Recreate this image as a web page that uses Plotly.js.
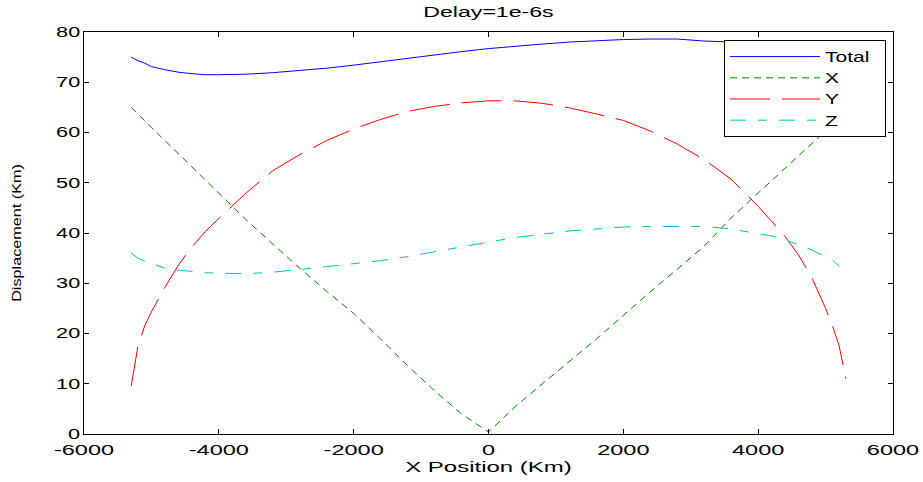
<!DOCTYPE html>
<html><head><meta charset="utf-8">
<script src="https://cdn.plot.ly/plotly-3.0.1.min.js"></script>
<style>html,body{margin:0;padding:0;background:#fff}</style>
</head><body>
<div id="chart" style="width:923px;height:482px"></div>
<script>
const xPositions = [-5300,-5200,-5100,-5000,-4800,-4600,-4400,-4200,-4000,-3600,-3200,-2800,-2400,-2000,-1600,-1200,-800,-400,0,400,800,1200,1600,2000,2400,2800,3200,3600,4000,4200,4400,4600,4800,5000,5100,5200,5300];
const totalDisp = [75.0,74.3,73.8,73.1,72.5,72.0,71.7,71.5,71.5,71.6,71.9,72.3,72.8,73.4,74.1,74.8,75.5,76.1,76.7,77.2,77.6,78.0,78.3,78.5,78.6,78.6,78.2,78.0,77.6,77.3,77.0,76.6,76.1,75.6,75.3,75.0,74.6];
const xDisp = [65.0,63.6,62.3,61.0,58.4,55.8,53.2,50.5,47.8,42.7,37.8,33.0,28.4,24.0,18.9,13.6,8.6,4.0,0.4,5.5,10.0,14.4,18.9,23.6,28.3,32.8,37.4,43.0,48.0,50.5,53.0,55.5,58.0,60.4,61.6,62.8,64.0];
const yDisp = [9.5,17.5,21.5,24.3,29.2,33.6,37.2,40.3,42.9,47.9,52.4,55.6,58.4,60.7,62.6,64.2,65.2,65.9,66.3,66.3,65.8,64.9,63.7,62.4,60.3,57.7,54.6,50.7,45.3,42.4,39.3,35.6,31.0,25.0,21.6,17.6,11.0];
const zDisp = [36.0,35.0,34.4,33.9,33.0,32.6,32.3,32.1,32.0,31.9,32.2,32.7,33.3,33.9,34.5,35.3,36.3,37.3,38.2,39.1,39.8,40.4,40.8,41.2,41.3,41.3,41.3,40.8,39.9,39.4,38.6,37.7,36.6,35.3,34.6,33.4,31.5];
const seriesNames = ['Total','X','Y','Z'];
const xTickVals = [-6000,-4000,-2000,0,2000,4000,6000];
const xTickText = ['-6000','-4000','-2000','0','2000','4000','6000'];
const yTickVals = [0,10,20,30,40,50,60,70,80];

const FONT = 'Liberation Sans, Arial, Helvetica, sans-serif';
const traces = [
  {x:xPositions, y:totalDisp, name:seriesNames[0], mode:'lines', line:{color:'#0000ff', width:1}},
  {x:xPositions, y:xDisp, name:seriesNames[1], mode:'lines', line:{color:'#008000', width:1, dash:'7px,5px'}},
  {x:xPositions, y:yDisp, name:seriesNames[2], mode:'lines', line:{color:'#ff0000', width:1, dash:'40px,12px'}},
  {x:xPositions, y:zDisp, name:seriesNames[3], mode:'lines', line:{color:'#00bfbf', width:1, dash:'16px,12px,9px,12px'}}
];
const axisCommon = {ticks:'inside', ticklen:5, tickcolor:'#000', tickwidth:1, showline:true, linecolor:'#000', linewidth:1, mirror:'ticks', showgrid:false, zeroline:false};
const layout = {
  width:923, height:482,
  margin:{l:84, r:30, t:32, b:48},
  paper_bgcolor:'#fff', plot_bgcolor:'#fff',
  font:{family:FONT, color:'#000', size:14},
  title:{text:'Delay=1e-6s', font:{size:14, color:'#000'}, x:0.5, xref:'paper', xanchor:'center', y:1-12/482, yref:'container', yanchor:'middle'},
  xaxis:Object.assign({}, axisCommon, {range:[-6000,6000], tickmode:'array', tickvals:xTickVals, ticktext:xTickText, tickfont:{size:14, color:'#000'}, ticklabelstandoff:3, title:{text:'X Position (Km)', font:{size:15}, standoff:3}}),
  yaxis:Object.assign({}, axisCommon, {range:[0,80], tickmode:'array', tickvals:yTickVals, tickfont:{size:14, color:'#000'}, title:{text:'Displacement (Km)', font:{size:12}, standoff:40}}),
  showlegend:true,
  legend:{x:(724-84)/809, y:(434-40)/402, xanchor:'left', yanchor:'top', bgcolor:'#fff', bordercolor:'#000', borderwidth:1, font:{size:14, color:'#000'}, itemwidth:90}
};
const gd = document.getElementById('chart');
function stretch(sel, f){
  gd.querySelectorAll(sel).forEach(t => {
    const w = t.getComputedTextLength();
    if (w > 0) { t.setAttribute('textLength', (w*f).toFixed(1)); t.setAttribute('lengthAdjust','spacingAndGlyphs'); }
  });
}
Plotly.newPlot(gd, traces, layout, {staticPlot:true, displayModeBar:false}).then(() => {
  stretch('.xtick text', 1.68);
  stretch('.ytick text', 1.55);
  stretch('.gtitle', 1.65);
  stretch('.xtitle', 1.6);
  stretch('.ytitle', 1.35);
  stretch('.legendtext', 1.5);
  gd.querySelectorAll('.legend [clip-path]').forEach(el => el.removeAttribute('clip-path'));
  const bg = gd.querySelector('.legend rect.bg');
  if (bg) bg.setAttribute('width', 161);
});
</script>
</body></html>
